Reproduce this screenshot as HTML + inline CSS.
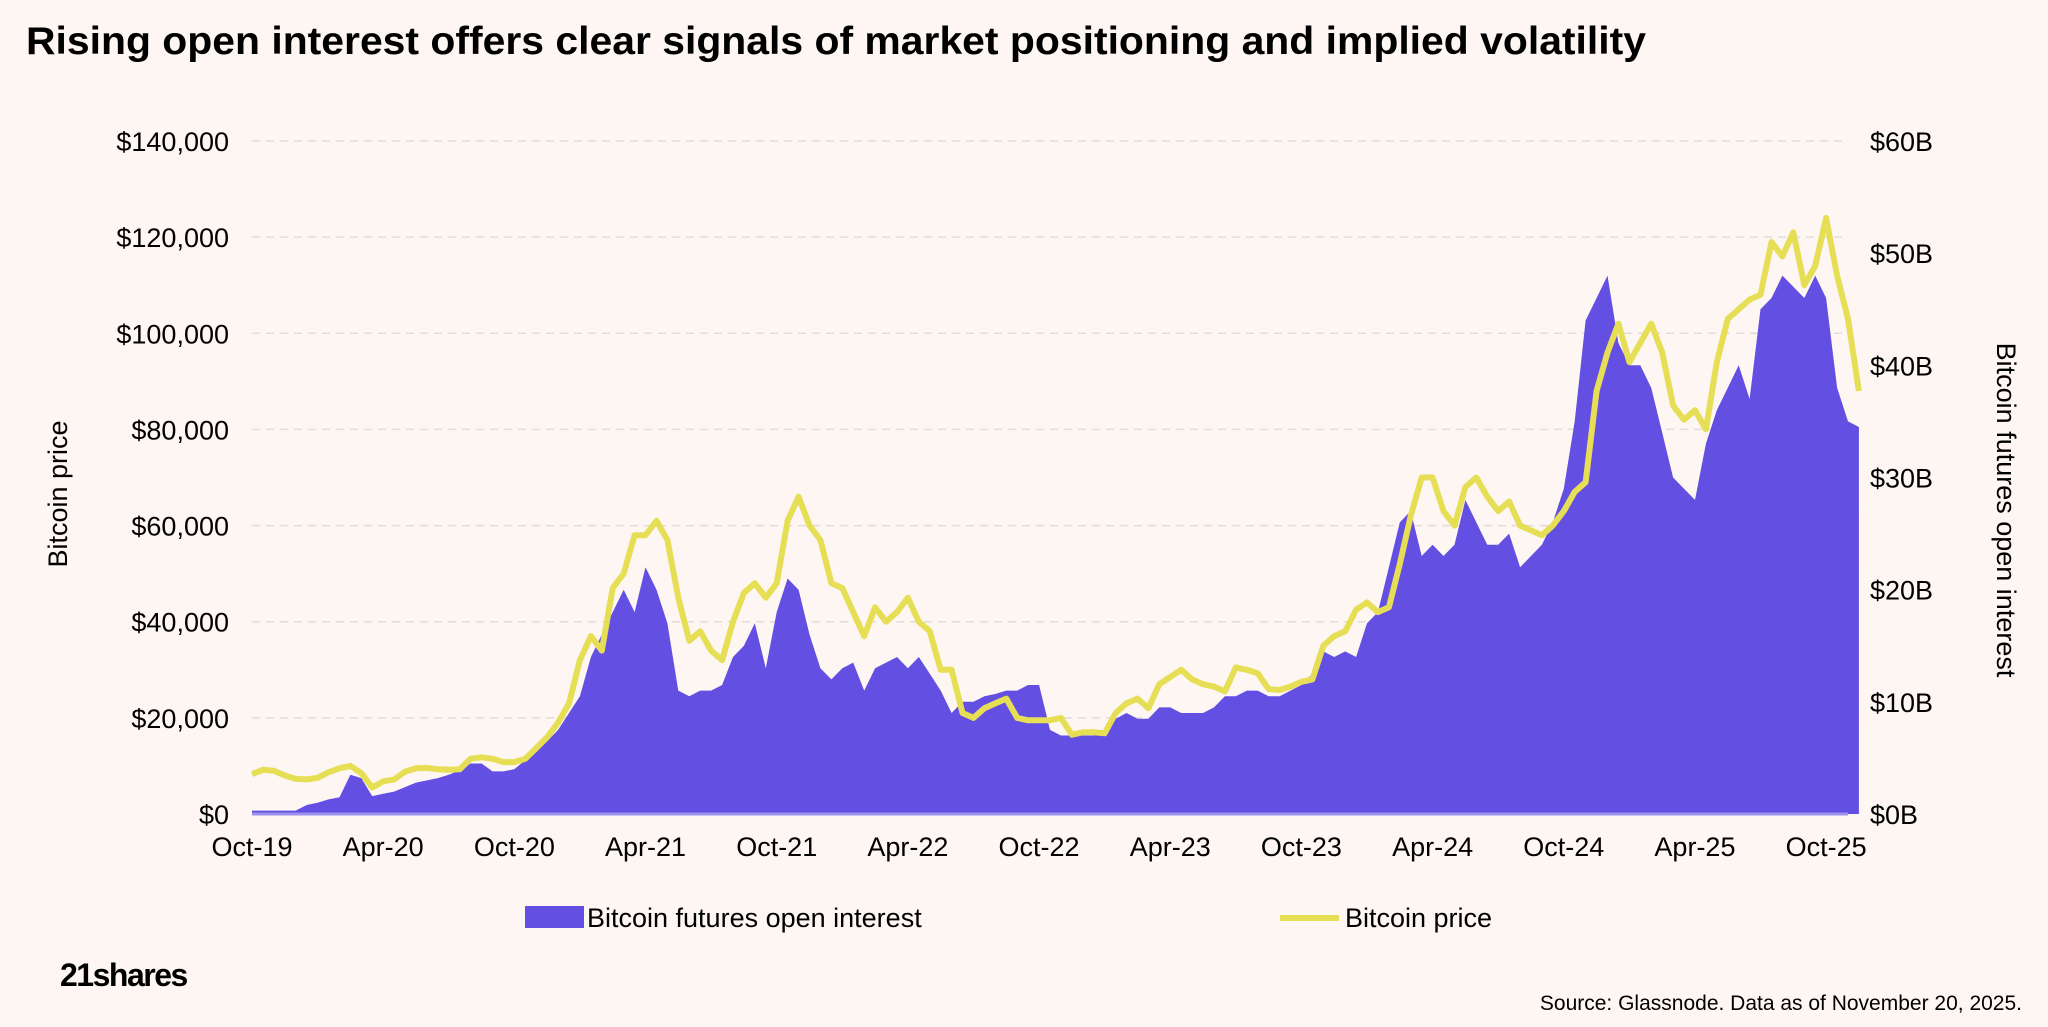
<!DOCTYPE html>
<html><head><meta charset="utf-8">
<style>
html,body{margin:0;padding:0;background:#fdf6f2;}
svg{display:block;font-family:"Liberation Sans",Arial,sans-serif;}
</style></head>
<body>
<svg id="chart" width="2048" height="1027" viewBox="0 0 2048 1027">
<rect x="0" y="0" width="2048" height="1027" fill="#fdf6f2"/>
<text x="26" y="54" font-size="39" font-weight="bold" fill="#000" textLength="1620" lengthAdjust="spacingAndGlyphs">Rising open interest offers clear signals of market positioning and implied volatility</text>
<g id="grid"></g>
<g id="area"></g>
<g id="line"></g>
<g id="yleft"></g>
<g id="yright"></g>
<g id="xaxis"></g>
<text transform="translate(67,494) rotate(-90)" text-anchor="middle" font-size="27" fill="#000">Bitcoin price</text>
<text transform="translate(1997,510) rotate(90)" text-anchor="middle" font-size="27" fill="#000">Bitcoin futures open interest</text>
<g>
<rect x="525" y="906" width="59" height="22" fill="#634fe2"/>
<text x="587" y="927" font-size="27" fill="#000">Bitcoin futures open interest</text>
<line x1="1280" y1="918" x2="1339" y2="918" stroke="#e6df55" stroke-width="6"/>
<text x="1345" y="927" font-size="27" fill="#000">Bitcoin price</text>
</g>
<text x="60" y="986" font-size="32" font-weight="bold" fill="#000" letter-spacing="-1.5">21shares</text>
<text x="2022" y="1010" text-anchor="end" font-size="21" fill="#000">Source: Glassnode. Data as of November 20, 2025.</text>
</svg>
<script>
const xTickLabels = ["Oct-19","Apr-20","Oct-20","Apr-21","Oct-21","Apr-22","Oct-22","Apr-23","Oct-23","Apr-24","Oct-24","Apr-25","Oct-25"];
const leftTicks = [0,20000,40000,60000,80000,100000,120000,140000];
const rightTicks = [0,10,20,30,40,50,60];
// Bitcoin price ($k), half-monthly from Oct 2019
const priceK = [8.3,9.2,9.0,8.0,7.3,7.2,7.5,8.7,9.5,10,8.5,5.5,6.8,7.2,8.8,9.5,9.6,9.3,9.2,9.3,11.5,11.8,11.5,10.8,
10.8,11.5,13.7,16,19,23,32,37,34,47,50,58,58,61,57,45,36,38,34,32,40,46,48,45,
48,61,66,60,57,48,47,42,37,43,40,42,45,40,38,30,30,21,20,22,23,24,20,19.5,
19.5,19.5,20,16.5,17,17,16.8,21,23,24,22,27,28.5,30,28,27,26.5,25.5,30.5,30,29.3,26,25.8,26.5,
27.5,28,35,37,38,42.5,44,42,43,52,62,70,70,63,60,68,70,66,63,65,60,59,58,60,
63,67,69,88,96,102,94,98,102,96,85,82,84,80,94,103,105,107,108,119,116,121,110,114,
124,112,103,88];
// Open interest ($B), half-monthly
const oiB = [0.3,0.3,0.3,0.3,0.3,0.8,1.0,1.3,1.5,3.5,3.2,1.6,1.8,2.0,2.4,2.8,3.0,3.2,3.5,3.9,4.5,4.5,3.8,3.8,
4.0,4.8,5.5,6.5,7.5,9.0,10.5,14,16,18,20,18,22,20,17,11,10.5,11,11,11.5,14,15,17,13,
18,21,20,16,13,12,13,13.5,11,13,13.5,14,13,14,12.5,11,9,10,10,10.5,10.7,11,11,11.5,
11.5,7.5,7,7,7,7,7.5,8.5,9,8.5,8.5,9.5,9.5,9,9,9,9.5,10.5,10.5,11,11,10.5,10.5,11,
11.5,12.5,14.5,14,14.5,14,17,18,22,26,27,23,24,23,24,28,26,24,24,25,22,23,24,26,
29,35,44,46,48,42,40,40,38,34,30,29,28,33,36,38,40,37,45,46,48,47,46,48,
46,38,35,34.5];

const NS="http://www.w3.org/2000/svg";
const X0=252, XEND=1848, Y0=814, YTOP=141;
function xOf(i){return X0+i*(XEND-X0)/146;}
function yPrice(v){return Y0-(v/140000)*(Y0-YTOP);}
function yOI(v){return Y0-(v/60)*(Y0-YTOP);}
function mk(tag,attrs,parent){const e=document.createElementNS(NS,tag);for(const k in attrs)e.setAttribute(k,attrs[k]);parent.appendChild(e);return e;}

const grid=document.getElementById('grid');
const yl=document.getElementById('yleft');
leftTicks.forEach(v=>{
  const y=yPrice(v);
  if(v>0){const g=mk('line',{x1:X0,x2:XEND,y1:y,y2:y,stroke:'#e3dcd8','stroke-width':1.5,'stroke-dasharray':'8 6'},grid);
  
  }
  const t=mk('text',{x:229,y:y+10,'text-anchor':'end','font-size':27,fill:'#000'},yl);
  t.textContent='$'+v.toLocaleString('en-US');
  
  
});
const yr=document.getElementById('yright');
rightTicks.forEach(v=>{
  const t=mk('text',{x:1870,y:yOI(v)+10,'font-size':27,fill:'#000'},yr);
  t.textContent='$'+v+'B';
  
  
});
const xa=document.getElementById('xaxis');
xTickLabels.forEach((lab,k)=>{
  const t=mk('text',{x:xOf(k*12),y:856,'text-anchor':'middle','font-size':27,fill:'#000'},xa);
  t.textContent=lab;
  
  
});
let d='M'+xOf(0)+','+Y0;
oiB.forEach((v,i)=>{d+=' L'+xOf(i).toFixed(1)+','+yOI(v).toFixed(1);});
d+=' L'+xOf(oiB.length-1)+','+Y0+' Z';
const area=mk('path',{d:d,fill:'#634fe2'},document.getElementById('area'));


const base=mk('line',{x1:X0,x2:XEND,y1:Y0,y2:Y0,stroke:'#9d90ee','stroke-width':3},document.getElementById('area'));


let p='';
priceK.forEach((v,i)=>{p+=(i?' L':'M')+xOf(i).toFixed(1)+','+yPrice(v*1000).toFixed(1);});
const ln=mk('path',{d:p,fill:'none',stroke:'#e6df55','stroke-width':6,'stroke-linejoin':'round'},document.getElementById('line'));


</script>
</body></html>
